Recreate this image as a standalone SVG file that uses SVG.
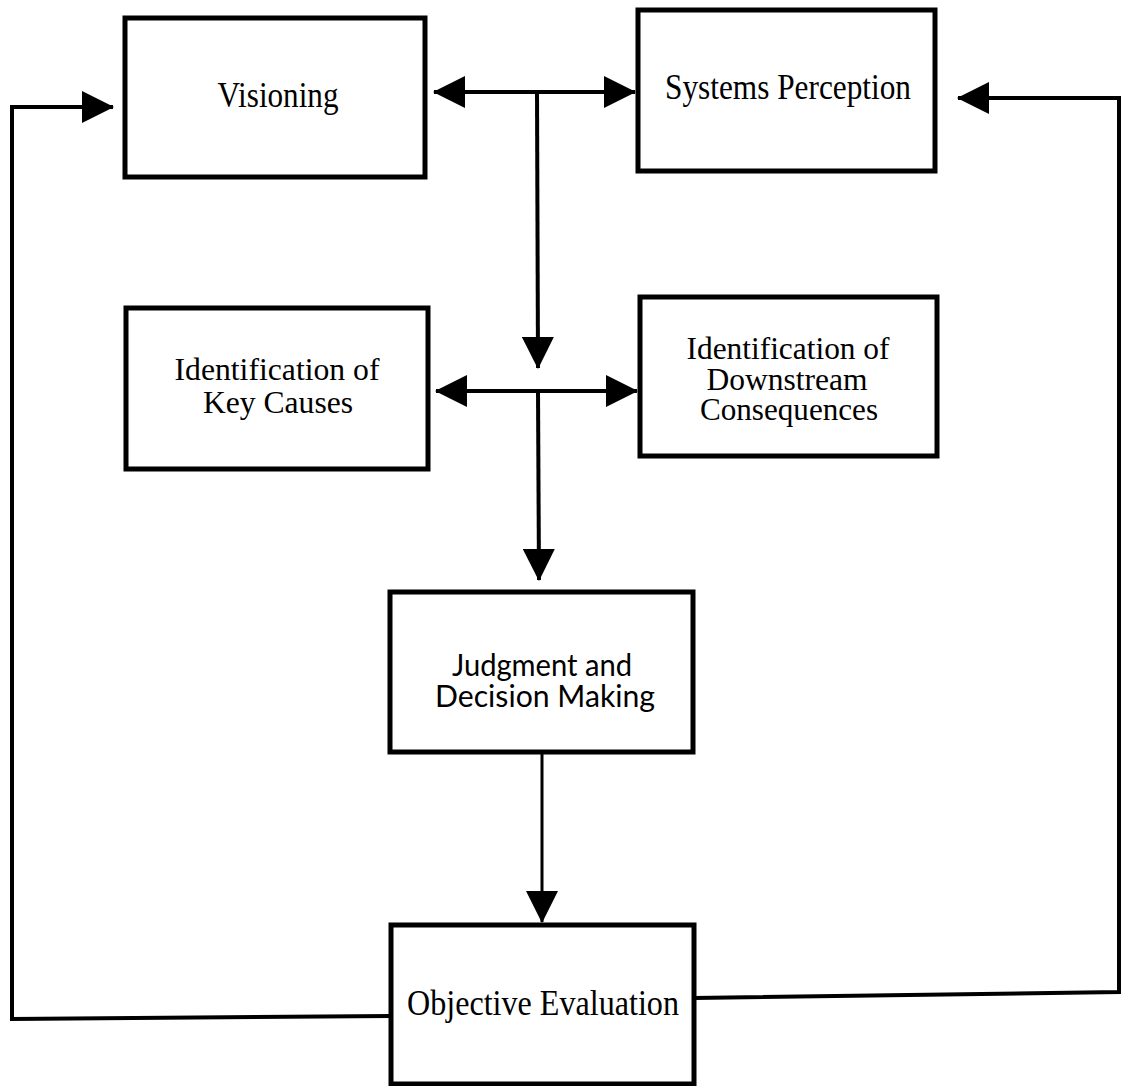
<svg xmlns="http://www.w3.org/2000/svg" width="1121" height="1086" viewBox="0 0 1121 1086">
  <style>
    .box { fill: #fff; stroke: #000; stroke-width: 5; }
    .label { font-family: "Liberation Serif", "Times New Roman", serif; font-size: 35px; fill: #000; text-anchor: middle; }
    .label-sm { font-family: "Liberation Serif", "Times New Roman", serif; font-size: 32px; fill: #000; text-anchor: middle; }
    .label-sans { font-family: "Lato", "Liberation Sans", sans-serif; font-size: 31px; fill: #000; text-anchor: middle; }
    .wire { fill: none; stroke: #000; stroke-width: 4; stroke-linejoin: miter; }
    .wire-thin { fill: none; stroke: #000; stroke-width: 3; }
  </style>
  <defs>
    <marker id="head" viewBox="0 0 32 32" refX="31" refY="16" markerWidth="32" markerHeight="32" markerUnits="userSpaceOnUse" orient="auto-start-reverse">
      <path d="M0,0 L32,16 L0,32 z" fill="#000"/>
    </marker>
  </defs>

  <rect width="1121" height="1086" fill="#fff"/>

  <!-- connectors -->
  <g id="connectors">
    <!-- Visioning <-> Systems Perception, with a drop to the middle row -->
    <line class="wire" x1="434" y1="92" x2="635" y2="92" marker-start="url(#head)" marker-end="url(#head)"/>
    <line class="wire" x1="537" y1="92" x2="538" y2="368" marker-end="url(#head)"/>
    <!-- Key Causes <-> Downstream Consequences, with a drop to Judgment -->
    <line class="wire" x1="436" y1="391" x2="637" y2="391" marker-start="url(#head)" marker-end="url(#head)"/>
    <line class="wire" x1="538" y1="391" x2="539" y2="580" marker-end="url(#head)"/>
    <!-- Judgment -> Objective Evaluation -->
    <line class="wire-thin" x1="542" y1="752" x2="542" y2="922" marker-end="url(#head)"/>
    <!-- feedback loop back to Visioning -->
    <polyline class="wire" points="391,1016 12,1019 12,107 113,107" marker-end="url(#head)"/>
    <!-- feedback loop back to Systems Perception -->
    <polyline class="wire" points="694,998 1119,992 1119,98 958,98" marker-end="url(#head)"/>
  </g>

  <g id="visioning">
    <rect class="box" x="125" y="18" width="300" height="159"/>
    <text class="label" x="278" y="107" textLength="121" lengthAdjust="spacingAndGlyphs">Visioning</text>
  </g>

  <g id="systems-perception">
    <rect class="box" x="638" y="10" width="297" height="161"/>
    <text class="label" x="788" y="99" textLength="246" lengthAdjust="spacingAndGlyphs">Systems Perception</text>
  </g>

  <g id="key-causes">
    <rect class="box" x="126" y="308" width="302" height="161"/>
    <text class="label-sm" x="277" y="380" textLength="205" lengthAdjust="spacingAndGlyphs">Identification of</text>
    <text class="label-sm" x="278" y="413" textLength="150" lengthAdjust="spacingAndGlyphs">Key Causes</text>
  </g>

  <g id="downstream-consequences">
    <rect class="box" x="640" y="297" width="297" height="159"/>
    <text class="label-sm" x="788" y="359" textLength="203" lengthAdjust="spacingAndGlyphs">Identification of</text>
    <text class="label-sm" x="787" y="390" textLength="161" lengthAdjust="spacingAndGlyphs">Downstream</text>
    <text class="label-sm" x="789" y="420" textLength="178" lengthAdjust="spacingAndGlyphs">Consequences</text>
  </g>

  <g id="judgment">
    <rect class="box" x="390" y="592" width="303" height="160"/>
    <text class="label-sans" x="542" y="676" textLength="180" lengthAdjust="spacingAndGlyphs">Judgment and</text>
    <text class="label-sans" x="545" y="707" textLength="220" lengthAdjust="spacingAndGlyphs">Decision Making</text>
  </g>

  <g id="objective-evaluation">
    <rect class="box" x="391" y="925" width="303" height="159"/>
    <text class="label" x="543" y="1015" textLength="272" lengthAdjust="spacingAndGlyphs">Objective Evaluation</text>
  </g>
</svg>
